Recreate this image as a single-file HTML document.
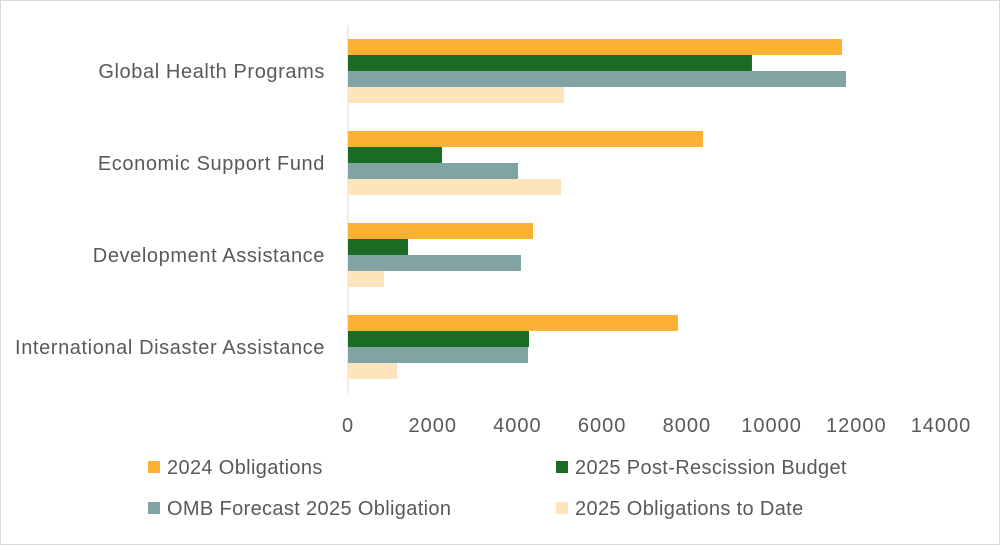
<!DOCTYPE html>
<html><head><meta charset="utf-8"><style>
body{margin:0;background:#fff;}
svg text{font-family:"Liberation Sans",sans-serif;fill:#595959;}
</style></head><body>
<svg id="chart" width="1000" height="545" xmlns="http://www.w3.org/2000/svg">
<rect x="0.5" y="0.5" width="999" height="544" fill="#fff" stroke="#d9d9d9"/>
<g id="plot"></g>
<g id="legend"></g>
</svg>
<script>
const categories=["Global Health Programs","Economic Support Fund","Development Assistance","International Disaster Assistance"];
const seriesNames=["2024 Obligations","2025 Post-Rescission Budget","OMB Forecast 2025 Obligation","2025 Obligations to Date"];
const s2024=[11662,8381,4367,7790];
const sPost=[9537,2219,1416,4273];
const sOmb=[11756,4013,4084,4249];
const sDate=[5099,5028,850,1157];
const ticks=[0,2000,4000,6000,8000,10000,12000,14000];
const colors=["#FBB131","#1A6B24","#81A3A4","#FDE4BD"];
const NS="http://www.w3.org/2000/svg";
const x0=348,xMax=941,vMax=14000;
const xs=v=>x0+(v/vMax)*(xMax-x0);
const plotTop=25,groupH=92,barH=16;
const plot=document.getElementById('plot');
function mk(t,a,p){const e=document.createElementNS(NS,t);for(const k in a)e.setAttribute(k,a[k]);p.appendChild(e);return e;}
const axis=mk('line',{x1:x0,x2:x0,y1:plotTop,y2:plotTop+groupH*4,stroke:'#d9d9d9','stroke-width':1},plot);


ticks.forEach(t=>{const e=mk('text',{x:xs(t),y:432,'font-size':20,'letter-spacing':1,'text-anchor':'middle'},plot);e.textContent=t;

});
const all=[s2024,sPost,sOmb,sDate];
categories.forEach((c,i)=>{const cy=plotTop+groupH*i+groupH/2;
const l=mk('text',{x:325,y:cy+7,'font-size':20,'letter-spacing':0.6,'text-anchor':'end'},plot);l.textContent=c;


all.forEach((s,j)=>{const r=mk('rect',{x:x0,y:cy-2*barH+j*barH,width:xs(s[i])-x0,height:barH,fill:colors[j]},plot);

});});
const lg=document.getElementById('legend');
const pos=[[148,467],[556,467],[148,508],[556,508]];
seriesNames.forEach((n,j)=>{const [x,y]=pos[j];
const r=mk('rect',{x:x,y:y-6,width:12,height:12,fill:colors[j]},lg);


const t=mk('text',{x:x+19,y:y+7,'font-size':20,'letter-spacing':0.35},lg);t.textContent=n;

});
</script>
</body></html>
